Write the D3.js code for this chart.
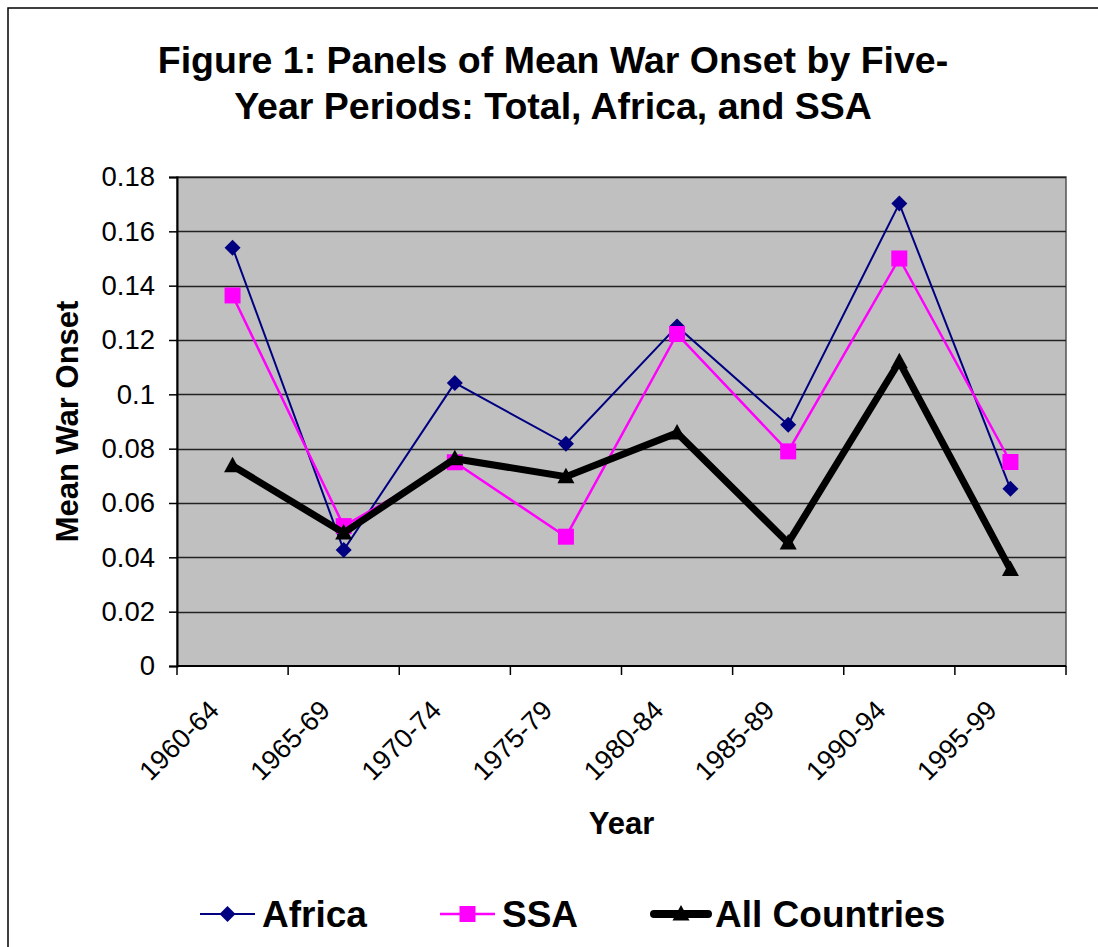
<!DOCTYPE html>
<html>
<head>
<meta charset="utf-8">
<script src="https://cdn.jsdelivr.net/npm/d3@7"></script>
<style>
    body { margin: 0; background: #fff; }
    svg { display: block; font-family: "Liberation Sans", Arial, sans-serif; }
</style>
</head>
<body>
<svg id="chart" width="1098" height="947"></svg>
<script>
const categories = ['1960-64', '1965-69', '1970-74', '1975-79', '1980-84', '1985-89', '1990-94', '1995-99'];
const africa = [0.154, 0.0427, 0.1042, 0.0818, 0.125, 0.0888, 0.1702, 0.0652];
const ssa = [0.1364, 0.0515, 0.075, 0.0476, 0.1222, 0.079, 0.150, 0.0751];
const allCountries = [0.0737, 0.049, 0.0763, 0.0697, 0.0858, 0.0453, 0.112, 0.0355];
const yTicks = [0, 0.02, 0.04, 0.06, 0.08, 0.1, 0.12, 0.14, 0.16, 0.18];

const svg = d3.select('#chart');
const plot = { left: 177, right: 1066, top: 177, bottom: 666 };

// outer frame of the chart area
svg.append('rect')
    .attr('x', 8).attr('y', 8)
    .attr('width', 1200).attr('height', 1200)
    .attr('fill', 'none').attr('stroke', '#000').attr('stroke-width', 1.5);

const x = d3.scaleBand().domain(categories).range([plot.left, plot.right]);
const y = d3.scaleLinear().domain([0, 0.18]).range([plot.bottom, plot.top]);

// title
svg.append('text')
    .attr('text-anchor', 'middle')
    .attr('font-size', 37.5).attr('font-weight', 'bold')
    .selectAll('tspan')
    .data(['Figure 1: Panels of Mean War Onset by Five-', 'Year Periods: Total, Africa, and SSA'])
    .join('tspan')
    .attr('x', 553)
    .attr('y', (d, i) => 73 + i * 46)
    .text(d => d);

// plot background
svg.append('rect')
    .attr('x', plot.left).attr('y', plot.top)
    .attr('width', plot.right - plot.left).attr('height', plot.bottom - plot.top)
    .attr('fill', '#c0c0c0').attr('stroke', '#555').attr('stroke-width', 1.5);

// gridlines
svg.append('g')
    .selectAll('line')
    .data(yTicks.slice(1))
    .join('line')
    .attr('x1', plot.left).attr('x2', plot.right)
    .attr('y1', d => Math.round(y(d)) + 0.5).attr('y2', d => Math.round(y(d)) + 0.5)
    .attr('stroke', '#222').attr('stroke-width', 1.5);

// y axis
const yAxis = svg.append('g')
    .attr('transform', `translate(${plot.left},0)`)
    .call(d3.axisLeft(y).tickValues(yTicks).tickFormat(d => String(+d.toFixed(2))).tickSize(8).tickPadding(14));
yAxis.select('.domain').attr('stroke', '#000').attr('stroke-width', 2);
yAxis.selectAll('.tick line').attr('stroke', '#000').attr('stroke-width', 1.5);
yAxis.selectAll('.tick text')
    .attr('font-size', 27.5).attr('fill', '#000')
    .attr('font-family', '"Liberation Sans", Arial, sans-serif');

// x axis, ticks at the category boundaries
const xAxisG = svg.append('g');
xAxisG.append('line')
    .attr('x1', plot.left).attr('x2', plot.right)
    .attr('y1', plot.bottom).attr('y2', plot.bottom)
    .attr('stroke', '#000').attr('stroke-width', 2);
const bounds = categories.map(c => x(c)).concat([x.range()[1]]);
xAxisG.selectAll('line.tick')
    .data(bounds)
    .join('line')
    .attr('class', 'tick')
    .attr('x1', d => d).attr('x2', d => d)
    .attr('y1', plot.bottom).attr('y2', plot.bottom + 9)
    .attr('stroke', '#000').attr('stroke-width', 1.5);
xAxisG.selectAll('text')
    .data(categories)
    .join('text')
    .attr('transform', d => `translate(${x(d) + x.bandwidth() / 2 - 12},${plot.bottom + 46}) rotate(-45)`)
    .attr('text-anchor', 'end')
    .attr('font-size', 27)
    .text(d => d);

// axis titles
svg.append('text')
    .attr('transform', `translate(78,${(plot.top + plot.bottom) / 2}) rotate(-90)`)
    .attr('text-anchor', 'middle')
    .attr('font-size', 31).attr('font-weight', 'bold')
    .text('Mean War Onset');
svg.append('text')
    .attr('x', (plot.left + plot.right) / 2).attr('y', 834)
    .attr('text-anchor', 'middle')
    .attr('font-size', 31).attr('font-weight', 'bold')
    .text('Year');

// marker shapes
const diamond = 'M0,-8L8,0L0,8L-8,0Z';
const square = 'M-8,-8H8V8H-8Z';
const triangle = 'M0,-9L8.5,6.5H-8.5Z';

const series = [
    { name: 'Africa', values: africa, color: '#000080', width: 2, marker: diamond },
    { name: 'SSA', values: ssa, color: '#ff00ff', width: 2.5, marker: square },
    { name: 'All Countries', values: allCountries, color: '#000', width: 7, marker: triangle }
];

const cx = c => x(c) + x.bandwidth() / 2;
const line = d3.line().x((d, i) => cx(categories[i])).y(d => y(d));

series.forEach(s => {
    svg.append('path')
        .attr('d', line(s.values))
        .attr('fill', 'none')
        .attr('stroke', s.color)
        .attr('stroke-width', s.width)
        .attr('stroke-linejoin', 'miter');
    svg.append('g')
        .selectAll('path')
        .data(s.values)
        .join('path')
        .attr('transform', (d, i) => `translate(${cx(categories[i])},${y(d)})`)
        .attr('d', s.marker)
        .attr('fill', s.color);
});

// legend
const legendItems = [
    { s: series[0], x0: 200, x1: 255, tx: 262 },
    { s: series[1], x0: 440, x1: 495, tx: 502 },
    { s: series[2], x0: 654, x1: 708, tx: 715 }
];
const legendY = 914;
legendItems.forEach(item => {
    const g = svg.append('g');
    g.append('line')
        .attr('x1', item.x0).attr('x2', item.x1)
        .attr('y1', legendY).attr('y2', legendY)
        .attr('stroke', item.s.color)
        .attr('stroke-width', item.s.width > 4 ? 8 : item.s.width)
        .attr('stroke-linecap', item.s.width > 4 ? 'round' : 'butt');
    g.append('path')
        .attr('transform', `translate(${(item.x0 + item.x1) / 2},${legendY})`)
        .attr('d', item.s.marker)
        .attr('fill', item.s.color);
    g.append('text')
        .attr('x', item.tx).attr('y', legendY + 13)
        .attr('font-size', 37).attr('font-weight', 'bold')
        .text(item.s.name);
});
</script>
</body>
</html>
